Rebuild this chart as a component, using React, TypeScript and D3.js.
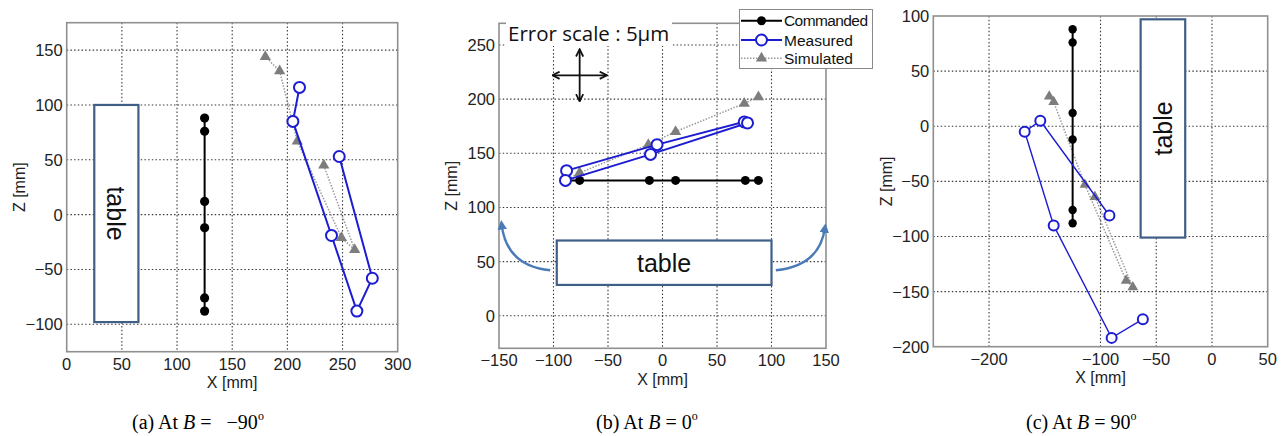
import React from 'react';
import * as d3 from 'd3';

// (a) B = -90 deg
const cmdX_a = [125, 125, 125, 125, 125, 125];
const cmdZ_a = [88, 76, 12, -12, -76, -88];
const measX_a = [247, 277, 263, 240, 205, 211];
const measZ_a = [53, -58, -88, -19, 85, 116];
const simX_a = [233, 261, 249, 209, 193, 180];
const simZ_a = [45, -32, -21, 67, 131, 144];

// (b) B = 0 deg
const cmdX_b = [-88, -76, -12, 12, 76, 88];
const cmdZ_b = [125, 125, 125, 125, 125, 125];
const measX_b = [-88, -5, 75, 78, -11, -89];
const measZ_b = [134, 158, 179, 178, 149, 125];
const simX_b = [-89, -76, -13, 12, 75, 88];
const simZ_b = [125, 132, 158, 170, 196, 202];

// (c) B = 90 deg
const cmdX_c = [-125, -125, -125, -125, -125, -125];
const cmdZ_c = [88, 76, 12, -12, -76, -88];
const measX_c = [-92, -154, -168, -142, -90, -62];
const measZ_c = [-81, 5, -5, -90, -192, -175];
const simX_c = [-105, -71, -77, -114, -142, -146];
const simZ_c = [-64, -146, -140, -53, 22, 27];

const xTicks_a = [0, 50, 100, 150, 200, 250, 300];
const zTicks_a = [-100, -50, 0, 50, 100, 150];
const xTicks_b = [-150, -100, -50, 0, 50, 100, 150];
const zTicks_b = [0, 50, 100, 150, 200, 250];
const xTicks_c = [-200, -100, -50, 0, 50];
const zTicks_c = [-200, -150, -100, -50, 0, 50, 100];

const legendLabels = ['Commanded', 'Measured', 'Simulated'];
const captions = ['(a) At ', '(b) At ', '(c) At '];
const captionAngles = ['=   \u221290', '= 0', '= 90'];

const TICK_FONT = '"Liberation Sans Narrow", "Liberation Sans", Arial, sans-serif';
const LABEL_FONT = '"Liberation Sans", Arial, sans-serif';
const BLUE = '#1c1cd2';
const GRAY = '#7d7d7d';

const zip = (xs: number[], zs: number[]) => xs.map((v, i) => [v, zs[i]] as [number, number]);
const fmt = (v: number) => String(v).replace('-', '\u2212');

const panels = [
  {
    id: 'a', left: 66.7, right: 397.7, top: 22.7, bottom: 351.7,
    xDomain: [0, 300], zDomain: [-125, 175], xTicks: xTicks_a, zTicks: zTicks_a,
    cmd: zip(cmdX_a, cmdZ_a), meas: zip(measX_a, measZ_a), sim: zip(simX_a, simZ_a),
    table: { x0: 25, x1: 65, z0: -98, z1: 100, rot: 90 },
    measW: 2, measR: 5.5, cmdR: 4.6, triSize: 55,
  },
  {
    id: 'b', left: 499, right: 826, top: 23.3, bottom: 348.3,
    xDomain: [-150, 150], zDomain: [-30, 270], xTicks: xTicks_b, zTicks: zTicks_b,
    cmd: zip(cmdX_b, cmdZ_b), meas: zip(measX_b, measZ_b), sim: zip(simX_b, simZ_b),
    table: { x0: -97, x1: 100, z0: 28.5, z1: 69.5, rot: 0 },
    measW: 2, measR: 5.5, cmdR: 4.5, triSize: 55,
  },
  {
    id: 'c', left: 933.3, right: 1267.7, top: 16, bottom: 346.7,
    xDomain: [-250, 50], zDomain: [-200, 100], xTicks: xTicks_c, zTicks: zTicks_c,
    cmd: zip(cmdX_c, cmdZ_c), meas: zip(measX_c, measZ_c), sim: zip(simX_c, simZ_c),
    table: { x0: -64, x1: -24, z0: -101, z1: 97, rot: -90 },
    measW: 1.4, measR: 5, cmdR: 4.2, triSize: 50,
  },
];

function Panel({ p }: { p: any }) {
  const x = d3.scaleLinear().domain(p.xDomain).range([p.left, p.right]);
  const y = d3.scaleLinear().domain(p.zDomain).range([p.bottom, p.top]);
  const line = d3.line<[number, number]>().x(d => x(d[0])).y(d => y(d[1]));
  const tri = d3.symbol().type(d3.symbolTriangle).size(p.triSize)() as string;
  const t = p.table;
  const tx = (x(t.x0) + x(t.x1)) / 2;
  const ty = (y(t.z0) + y(t.z1)) / 2;
  const xGrid = p.xTicks.filter((v: number) => v > p.xDomain[0] && v < p.xDomain[1]);
  const zGrid = p.zTicks.filter((v: number) => v > p.zDomain[0] && v < p.zDomain[1]);

  return (
    <g>
      <rect x={p.left} y={p.top} width={p.right - p.left} height={p.bottom - p.top} fill="#fff" />
      {xGrid.map((v: number) => (
        <line key={'gx' + v} x1={x(v)} x2={x(v)} y1={p.top} y2={p.bottom}
          stroke="#3a3a3a" strokeWidth={1.1} strokeDasharray="1.5 2.2" />
      ))}
      {zGrid.map((v: number) => (
        <line key={'gz' + v} x1={p.left} x2={p.right} y1={y(v)} y2={y(v)}
          stroke="#3a3a3a" strokeWidth={1.1} strokeDasharray="1.5 2.2" />
      ))}

      <rect x={x(t.x0)} y={y(t.z1)} width={x(t.x1) - x(t.x0)} height={y(t.z0) - y(t.z1)}
        fill="#fff" stroke="#3f5f86" strokeWidth={2.2} />
      <text x={tx} y={ty} transform={t.rot ? `rotate(${t.rot},${tx},${ty})` : undefined}
        textAnchor="middle" dominantBaseline="central" fontFamily={LABEL_FONT} fontSize={25} fill="#111">table</text>

      <path d={line(p.sim) || ''} fill="none" stroke="#9a9a9a" strokeWidth={1.5} strokeDasharray="1.5 1.5" />
      {p.sim.map((d: [number, number], i: number) => (
        <path key={'s' + i} d={tri} transform={`translate(${x(d[0])},${y(d[1])})`} fill={GRAY} />
      ))}

      <path d={line(p.cmd) || ''} fill="none" stroke="#000" strokeWidth={2} />
      {p.cmd.map((d: [number, number], i: number) => (
        <circle key={'c' + i} cx={x(d[0])} cy={y(d[1])} r={p.cmdR} fill="#000" />
      ))}

      <path d={line(p.meas) || ''} fill="none" stroke={BLUE} strokeWidth={p.measW} />
      {p.meas.map((d: [number, number], i: number) => (
        <circle key={'m' + i} cx={x(d[0])} cy={y(d[1])} r={p.measR} fill="#fff" stroke={BLUE} strokeWidth={2} />
      ))}

      <rect x={p.left} y={p.top} width={p.right - p.left} height={p.bottom - p.top}
        fill="none" stroke="#8f8f8f" strokeWidth={1.6} />

      {p.xTicks.map((v: number) => (
        <text key={'tx' + v} x={x(v)} y={p.bottom + 12} textAnchor="middle" dominantBaseline="central"
          fontFamily={TICK_FONT} fontSize={16.5} fill="#222">{fmt(v)}</text>
      ))}
      {p.zTicks.map((v: number) => (
        <text key={'tz' + v} x={p.left - 4} y={y(v)} textAnchor="end" dominantBaseline="central"
          fontFamily={TICK_FONT} fontSize={16.5} fill="#222">{fmt(v)}</text>
      ))}
      <text x={(p.left + p.right) / 2} y={p.bottom + 31} textAnchor="middle" dominantBaseline="central"
        fontFamily={TICK_FONT} fontSize={16} fill="#222">X [mm]</text>
      <text x={p.left - 47} y={(p.top + p.bottom) / 2} textAnchor="middle" dominantBaseline="central"
        transform={`rotate(-90,${p.left - 47},${(p.top + p.bottom) / 2})`}
        fontFamily={TICK_FONT} fontSize={16} fill="#222">Z [mm]</text>
    </g>
  );
}

function Extras() {
  // annotations of panel (b), placed in its data units
  const p = panels[1];
  const x = d3.scaleLinear().domain(p.xDomain).range([p.left, p.right]);
  const y = d3.scaleLinear().domain(p.zDomain).range([p.bottom, p.top]);
  const tri = d3.symbol().type(d3.symbolTriangle).size(55)() as string;
  const lx0 = 741, lx1 = 782, ltx = 784;
  const ly = [20.7, 40, 58.3];
  const cx = x(-76), cy = y(222);
  const hx = 25 * 1.09, hz = 24 * 1.083;
  const arrowL = `M${x(-103)},${y(42)} Q${x(-143)},${y(46)} ${x(-147.5)},${y(84)}`;
  const arrowR = `M${x(104)},${y(42)} Q${x(144)},${y(46)} ${x(149)},${y(81)}`;
  return (
    <g>
      <defs>
        <marker id="chev" viewBox="0 0 10 10" refX="9" refY="5" markerWidth="5" markerHeight="5" orient="auto-start-reverse">
          <path d="M1,1 L9,5 L1,9" fill="none" stroke="#111" strokeWidth={2} />
        </marker>
        <marker id="blueHead" viewBox="0 0 10 10" refX="5" refY="5" markerWidth="4" markerHeight="4" orient="auto">
          <path d="M0,0 L10,5 L0,10 z" fill="#4a7bb7" />
        </marker>
      </defs>
      <path d={arrowL} fill="none" stroke="#4a7bb7" strokeWidth={2.4} markerEnd="url(#blueHead)" />
      <path d={arrowR} fill="none" stroke="#4a7bb7" strokeWidth={2.4} markerEnd="url(#blueHead)" />

      <rect x={506} y={8} width={166} height={38} fill="#fff" />
      <text x={508} y={41} fontFamily='"Open Sans", "Noto Sans", sans-serif' fontSize={20.5} fill="#111">Error scale : 5µm</text>
      <line x1={cx - hx} x2={cx + hx} y1={cy} y2={cy} stroke="#111" strokeWidth={1.8}
        markerStart="url(#chev)" markerEnd="url(#chev)" />
      <line x1={cx} x2={cx} y1={cy - hz} y2={cy + hz} stroke="#111" strokeWidth={1.8}
        markerStart="url(#chev)" markerEnd="url(#chev)" />

      <rect x={739.5} y={9.5} width={133} height={59} fill="#fff" stroke="#8a8a8a" strokeWidth={1} />
      <line x1={lx0} x2={lx1} y1={ly[0]} y2={ly[0]} stroke="#000" strokeWidth={2} />
      <circle cx={(lx0 + lx1) / 2} cy={ly[0]} r={4.5} fill="#000" />
      <line x1={lx0} x2={lx1} y1={ly[1]} y2={ly[1]} stroke={BLUE} strokeWidth={2} />
      <circle cx={(lx0 + lx1) / 2} cy={ly[1]} r={5.5} fill="#fff" stroke={BLUE} strokeWidth={2} />
      <line x1={lx0} x2={lx1} y1={ly[2]} y2={ly[2]} stroke="#9a9a9a" strokeWidth={1.5} strokeDasharray="1.5 1.5" />
      <path d={tri} transform={`translate(${(lx0 + lx1) / 2},${ly[2]})`} fill={GRAY} />
      {legendLabels.map((s, i) => (
        <text key={s} x={ltx} y={ly[i]} dominantBaseline="central" fontFamily={TICK_FONT}
          fontSize={15.5} fill="#111" textLength={i === 0 ? 84 : undefined}>{s}</text>
      ))}
    </g>
  );
}

const captionX = [132, 596, 1026];

export default function App() {
  return (
    <div>
      <style>{'body{margin:0}'}</style>
      <svg width={1281} height={436} style={{ display: 'block', background: '#fff' }}>
        {panels.map(p => <Panel key={p.id} p={p} />)}
        <Extras />
        {captions.map((c, i) => (
          <text key={c} x={captionX[i]} y={429} fontFamily='"Liberation Serif", "Times New Roman", serif'
            fontSize={20} fill="#000" style={{ whiteSpace: 'pre' }}>
            {c}<tspan fontStyle="italic">B</tspan>{' ' + captionAngles[i]}
            <tspan dy={-9} fontSize={12}>o</tspan>
          </text>
        ))}
      </svg>
    </div>
  );
}
